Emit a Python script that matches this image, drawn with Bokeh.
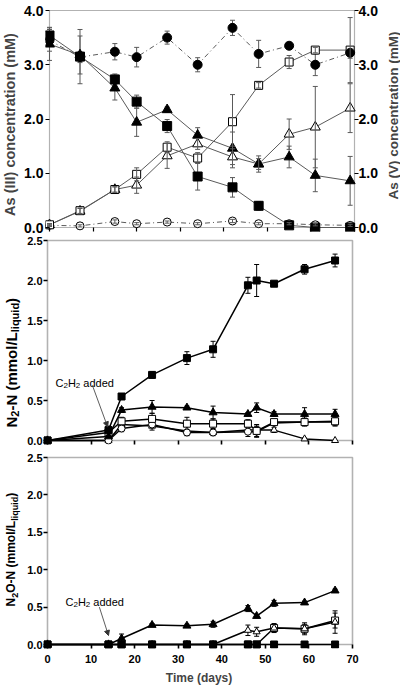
from math import pi
from bokeh.plotting import figure
from bokeh.models import (ColumnDataSource, Whisker, TeeHead, Label, Arrow, NormalHead,
                          LinearAxis, Range1d, FixedTicker, PrintfTickFormatter, BoxAnnotation)
from bokeh.layouts import column, row
from bokeh.embed import file_html
from bokeh.resources import INLINE

# ---------------- data ----------------
# Panel 1: arsenic concentrations (mM)
days_as = [0, 7, 15, 20, 27, 34, 42, 48, 55, 61, 69]
as3_ctrl = [3.45, 3.14, 3.24, 3.14, 3.50, 3.00, 3.68, 3.20, 3.35, 3.00, 3.22]
as3_ctrl_err = [0.20, 0.10, 0.15, 0.18, 0.12, 0.13, 0.14, 0.25, 0.05, 0.20, 0.10]
as3_a = [3.54, 3.15, 2.73, 2.32, 1.87, 0.94, 0.74, 0.40, 0.04, 0.00, 0.00]
as3_a_err = [0.15, 0.50, 0.10, 0.12, 0.12, 0.25, 0.18, 0.08, 0.03, 0.00, 0.00]
as3_b = [3.38, 3.18, 2.57, 1.94, 2.17, 1.70, 1.46, 1.17, 1.30, 0.96, 0.86]
as3_b_err = [0.30, 0.35, 0.22, 0.26, 0.05, 0.14, 0.30, 0.15, 0.20, 0.30, 0.45]
as5_a = [0.05, 0.31, 0.70, 0.98, 1.48, 1.28, 1.95, 2.62, 3.05, 3.27, 3.27]
as5_a_err = [0.02, 0.05, 0.05, 0.12, 0.10, 0.10, 0.50, 0.05, 0.12, 0.05, 0.60]
as5_b = [0.05, 0.30, 0.70, 0.78, 1.32, 1.54, 1.30, 1.17, 1.72, 1.85, 2.20]
as5_b_err = [0.02, 0.05, 0.05, 0.15, 0.23, 0.10, 0.20, 0.10, 0.28, 0.75, 0.45]
as5_ctrl = [0.04, 0.03, 0.11, 0.07, 0.10, 0.07, 0.12, 0.07, 0.07, 0.05, 0.04]
as5_ctrl_err = [0.02, 0.02, 0.03, 0.02, 0.02, 0.02, 0.03, 0.02, 0.02, 0.02, 0.02]

# Panels 2 and 3: nitrogen gases (mmol/L liquid)
days_n = [0, 14, 17, 24, 32, 38, 46, 48, 52, 59, 66]
n2_a = [0.00, 0.13, 0.55, 0.82, 1.03, 1.14, 1.94, 2.00, 1.96, 2.14, 2.25]
n2_a_err = [0.00, 0.05, 0.03, 0.04, 0.08, 0.10, 0.10, 0.20, 0.03, 0.06, 0.08]
n2_b = [0.00, 0.05, 0.38, 0.42, 0.41, 0.35, 0.33, 0.41, 0.33, 0.33, 0.33]
n2_b_err = [0.00, 0.03, 0.03, 0.08, 0.02, 0.08, 0.02, 0.06, 0.03, 0.08, 0.06]
n2_c = [0.00, 0.10, 0.24, 0.27, 0.21, 0.21, 0.21, 0.12, 0.23, 0.23, 0.24]
n2_c_err = [0.00, 0.03, 0.05, 0.07, 0.08, 0.06, 0.05, 0.08, 0.03, 0.05, 0.05]
n2_d = [0.00, 0.00, 0.20, 0.18, 0.12, 0.10, 0.13, 0.13, 0.13, 0.02, 0.00]
n2_d_err = [0.00, 0.00, 0.04, 0.05, 0.06, 0.04, 0.03, 0.05, 0.03, 0.01, 0.00]
n2_e = [0.00, 0.00, 0.15, 0.20, 0.10, 0.10, 0.11, 0.11, 0.22, 0.23, 0.23]
n2_e_err = [0.00, 0.00, 0.04, 0.04, 0.03, 0.03, 0.06, 0.06, 0.03, 0.04, 0.05]

n2o_b = [0.00, 0.00, 0.08, 0.26, 0.25, 0.27, 0.48, 0.38, 0.55, 0.56, 0.72]
n2o_b_err = [0.00, 0.00, 0.06, 0.02, 0.02, 0.04, 0.04, 0.02, 0.04, 0.02, 0.02]
n2o_a = [0.00, 0.00, 0.00, 0.00, 0.00, 0.00, 0.00, 0.00, 0.00, 0.00, 0.00]
n2o_a_err = [0.00, 0.00, 0.00, 0.00, 0.00, 0.00, 0.00, 0.00, 0.00, 0.00, 0.00]
n2o_d = [0.00, 0.00, 0.00, 0.00, 0.00, 0.00, 0.19, 0.17, 0.22, 0.21, 0.30]
n2o_d_err = [0.00, 0.00, 0.00, 0.00, 0.00, 0.00, 0.07, 0.06, 0.06, 0.06, 0.15]
n2o_c = [0.00, 0.00, 0.00, 0.00, 0.00, 0.00, 0.00, 0.00, 0.22, 0.21, 0.32]
n2o_c_err = [0.00, 0.00, 0.00, 0.00, 0.00, 0.00, 0.00, 0.00, 0.05, 0.08, 0.10]

x_ticks = [0, 10, 20, 30, 40, 50, 60, 70]
as_ticks = [0, 1, 2, 3, 4]
n_ticks = [0, 0.5, 1.0, 1.5, 2.0, 2.5]
X_MAX = 70

# ---------------- helpers ----------------
FONT = "Liberation Sans"
BOLD_W = {" ": 278, "(": 333, ")": 333, "-": 333, "/": 278, ".": 278, "A": 722, "C": 722,
          "H": 722, "I": 278, "L": 611, "M": 833, "N": 722, "O": 778, "T": 611, "V": 667,
          "a": 556, "c": 556, "d": 611, "e": 556, "i": 278, "l": 278, "m": 889, "n": 611,
          "o": 611, "q": 611, "r": 389, "s": 556, "t": 333, "u": 611, "y": 556}
REG_W = {" ": 278, "(": 333, ")": 333, "-": 333, "/": 278, ".": 278, "A": 667, "C": 722,
         "H": 722, "I": 278, "L": 556, "M": 833, "N": 722, "O": 778, "T": 611, "V": 667,
         "a": 556, "c": 500, "d": 556, "e": 556, "i": 222, "l": 222, "m": 833, "n": 556,
         "o": 556, "q": 556, "r": 333, "s": 500, "t": 278, "u": 556, "y": 500}


def text_w(s, size, bold):
    tbl = BOLD_W if bold else REG_W
    return sum(tbl.get(ch, 556) for ch in s) * size / 1000.0


def rich_label(p, pieces, x, y, x_off, y_off, vertical, bold, main_size, sub_shift=3):
    """Text made of pieces; subscript pieces are smaller and lowered."""
    pos = 0.0
    for txt, size, sub in pieces:
        if txt.strip():
            if vertical:
                # middle baseline: shift the sub's centre so its baseline sits sub_shift lower
                shift = sub_shift + 0.3465 * (main_size - size) if sub else 0
                xo, yo, ang, base = x_off + shift, y_off + pos, pi / 2, "middle"
            else:
                xo, yo, ang, base = x_off + pos, y_off - (sub_shift if sub else 0), 0, "alphabetic"
            p.add_layout(Label(x=x, y=y, x_offset=xo, y_offset=yo, text=txt, angle=ang,
                               text_font=FONT, text_font_size=f"{size}px",
                               text_font_style="bold" if bold else "normal",
                               text_align="left", text_baseline=base,
                               text_color="black"))
        pos += text_w(txt, size, bold)


def series(p, x, y, err, marker, filled, size, line_color, line_width, dash="solid",
           err_color="black", head=5, yr="default", err_on_top=False):
    p.line(x, y, line_color=line_color, line_width=line_width, line_dash=dash,
           y_range_name=yr)
    xs = [a for a, e in zip(x, err) if e > 0]
    lo = [b - e for b, e in zip(y, err) if e > 0]
    hi = [b + e for b, e in zip(y, err) if e > 0]
    if xs:
        src = ColumnDataSource(dict(x=xs, lo=lo, hi=hi))
        w = Whisker(source=src, base="x", lower="lo", upper="hi", line_color=err_color,
                    line_width=1, y_range_name=yr,
                    upper_head=TeeHead(size=head, line_color=err_color, line_width=1),
                    lower_head=TeeHead(size=head, line_color=err_color, line_width=1))
        if err_on_top:
            w.level = "overlay"
        p.add_layout(w)
    p.scatter(x, y, marker=marker, size=size, fill_color="black" if filled else "white",
              line_color="black", line_width=1, y_range_name=yr)


# geometry (pixels): data box is 305 px wide, frames padded 4 px left/bottom, 2 px right/top
BOX_W = 305
PAD_LO, PAD_HI = 4, 2
PX_PER_DAY = BOX_W / X_MAX
X_LO = -PAD_LO / PX_PER_DAY
X_HI = X_MAX + PAD_HI / PX_PER_DAY


def y_limits(box_h, y_max):
    ppu = box_h / y_max
    return -PAD_LO / ppu, y_max + PAD_HI / ppu, box_h + PAD_LO + PAD_HI


def main_fig(box_h, y_max, top, bottom, left_b, right_b, line_w):
    y_lo, y_hi, fh = y_limits(box_h, y_max)
    p = figure(frame_width=BOX_W + PAD_LO + PAD_HI, frame_height=fh,
               x_range=Range1d(X_LO, X_HI), y_range=Range1d(y_lo, y_hi),
               output_backend="svg", toolbar_location=None,
               min_border_left=left_b, min_border_right=right_b, min_border_top=top,
               min_border_bottom=bottom, background_fill_color="white",
               border_fill_color="white")
    p.grid.visible = False
    p.outline_line_color = None
    p.add_layout(BoxAnnotation(left=0, right=X_MAX, bottom=0, top=y_max, fill_color=None,
                               line_color="black", line_width=line_w, level="underlay"))
    return p, y_lo, y_hi, fh


def label_fig(width, y_lo, y_hi, fh, top, bottom):
    f = figure(frame_width=width, frame_height=fh, x_range=Range1d(0, width),
               y_range=Range1d(y_lo, y_hi), x_axis_type=None, y_axis_type=None,
               output_backend="svg", toolbar_location=None, min_border_left=0,
               min_border_right=0, min_border_top=top, min_border_bottom=bottom,
               background_fill_color="white", border_fill_color="white")
    f.outline_line_color = None
    return f


def style_axis(ax, font_size, line_w, standoff, t_in, t_out):
    ax.axis_line_color = None
    ax.major_tick_line_color = "black"
    ax.major_tick_line_width = line_w
    ax.minor_tick_line_color = None
    ax.major_tick_out = t_out
    ax.major_tick_in = t_in
    ax.major_label_text_font = FONT
    ax.major_label_text_font_style = "bold"
    ax.major_label_text_font_size = font_size
    ax.major_label_text_color = "black"
    ax.major_label_standoff = standoff


def hide_x_labels(p):
    p.xaxis.ticker = FixedTicker(ticks=x_ticks)
    p.xaxis.major_label_text_font_size = "0px"
    p.xaxis.major_label_text_color = None
    p.xaxis.major_label_standoff = 0


# ---------------- panel 1 ----------------
p1, y1lo, y1hi, fh1 = main_fig(217, 4, 8, 3, 22, 26, 1.2)
p1.extra_y_ranges = {"asv": Range1d(y1lo, y1hi)}
p1.add_layout(LinearAxis(y_range_name="asv"), "right")
style_axis(p1.yaxis[0], "14px", 1.2, 2, 4, 0)
style_axis(p1.yaxis[1], "14px", 1.2, 0, 2, 2)
for ax in p1.yaxis:
    ax.ticker = FixedTicker(ticks=as_ticks)
    ax.formatter = PrintfTickFormatter(format="%.1f")
style_axis(p1.xaxis[0], "14px", 1.2, 0, 4, 0)
hide_x_labels(p1)

GL = "#5a5a5a"
series(p1, days_as, as5_ctrl, as5_ctrl_err, "circle", False, 8, GL, 1, "5 3 1 3", GL, 5, "asv", True)
series(p1, days_as, as5_b, as5_b_err, "triangle", False, 10, GL, 1, "solid", GL, 5, "asv", True)
series(p1, days_as, as5_a, as5_a_err, "square", False, 8, GL, 1, "solid", GL, 5, "asv", True)
series(p1, days_as, as3_b, as3_b_err, "triangle", True, 10, GL, 1, "solid", GL, 5)
series(p1, days_as, as3_a, as3_a_err, "square", True, 9, GL, 1, "solid", GL, 5)
series(p1, days_as, as3_ctrl, as3_ctrl_err, "circle", True, 9, GL, 1, "5 3 1 3", GL, 5)

l1 = label_fig(21, y1lo, y1hi, fh1, 8, 3)
l1.add_layout(Label(x=9, y=0, y_offset=103, text="As (III) concentration (mM)",
                    angle=pi / 2, text_font=FONT, text_font_size="14.5px",
                    text_font_style="bold", text_align="center", text_baseline="middle"))
r1 = label_fig(20, y1lo, y1hi, fh1, 8, 3)
r1.add_layout(Label(x=11, y=0, y_offset=112, text="As (V) concentration (mM)",
                    angle=pi / 2, text_font=FONT, text_font_size="13.5px",
                    text_font_style="bold", text_align="center", text_baseline="middle"))

# ---------------- panel 2 ----------------
p2, y2lo, y2hi, fh2 = main_fig(200, 2.5, 4, 6, 20, 40, 1.6)
style_axis(p2.yaxis[0], "11px", 1.6, 1, 4, 0)
p2.yaxis.ticker = FixedTicker(ticks=n_ticks)
p2.yaxis.formatter = PrintfTickFormatter(format="%.1f")
style_axis(p2.xaxis[0], "11px", 1.6, 0, 4, 0)
hide_x_labels(p2)

series(p2, days_n, n2_d, n2_d_err, "triangle", False, 7, "black", 1.5)
series(p2, days_n, n2_e, n2_e_err, "circle", False, 7, "black", 1.5)
series(p2, days_n, n2_c, n2_c_err, "square", False, 7, "black", 1.5)
series(p2, days_n, n2_b, n2_b_err, "triangle", True, 8, "black", 1.5)
series(p2, days_n, n2_a, n2_a_err, "square", True, 7, "black", 1.5)

rich_label(p2, [("C", 11, False), ("2", 8, True), ("H", 11, False), ("2", 8, True),
                (" ", 11, False), ("added", 11, False)], 0, 0, 8, 58, False, False, 11)
p2.add_layout(Arrow(x_start=10.3, y_start=0.69, x_end=13.8, y_end=0.17,
                    line_color="#333333", line_width=0.8,
                    end=NormalHead(size=5, fill_color="#333333", line_color="#333333")))

l2 = label_fig(23, y2lo, y2hi, fh2, 4, 6)
rich_label(l2, [("N", 15, False), ("2", 11, True), ("-N (mmol/L", 15, False),
                ("liquid", 11, True), (")", 15, False)],
           10.5, 0, 0, 13, True, True, 15)

# ---------------- panel 3 ----------------
p3, y3lo, y3hi, fh3 = main_fig(187, 2.5, 5, 39, 20, 40, 1.6)
style_axis(p3.yaxis[0], "11px", 1.6, 1, 4, 0)
p3.yaxis.ticker = FixedTicker(ticks=n_ticks)
p3.yaxis.formatter = PrintfTickFormatter(format="%.1f")
style_axis(p3.xaxis[0], "11px", 1.6, 6, 4, 0)
p3.xaxis.ticker = FixedTicker(ticks=x_ticks)
p3.xaxis.axis_label = "Time (days)"
p3.xaxis.axis_label_text_font = FONT
p3.xaxis.axis_label_text_font_style = "bold"
p3.xaxis.axis_label_text_font_size = "12px"
p3.xaxis.axis_label_standoff = 5

series(p3, days_n, n2o_c, n2o_c_err, "square", False, 7, "black", 1.5)
series(p3, days_n, n2o_d, n2o_d_err, "triangle", False, 7, "black", 1.5)
series(p3, days_n, n2o_a, n2o_a_err, "square", True, 7, "black", 1.5)
series(p3, days_n, n2o_b, n2o_b_err, "triangle", True, 8, "black", 1.5)

rich_label(p3, [("C", 11, False), ("2", 8, True), ("H", 11, False), ("2", 8, True),
                (" ", 11, False), ("added", 11, False)], 0, 0, 18, 43, False, False, 11)
p3.add_layout(Arrow(x_start=11.9, y_start=0.50, x_end=14.0, y_end=0.12,
                    line_color="#333333", line_width=0.8,
                    end=NormalHead(size=5, fill_color="#333333", line_color="#333333")))

l3 = label_fig(23, y3lo, y3hi, fh3, 5, 39)
rich_label(l3, [("N", 12, False), ("2", 9, True), ("O-N (mmol/L", 12, False),
                ("liquid", 9, True), (")", 12, False)],
           10.5, 0, 0, 38, True, True, 12)

layout = column(row(l1, p1, r1, spacing=0), row(l2, p2, spacing=0),
                row(l3, p3, spacing=0), spacing=0)
open("out.html", "w").write(file_html(layout, INLINE))
